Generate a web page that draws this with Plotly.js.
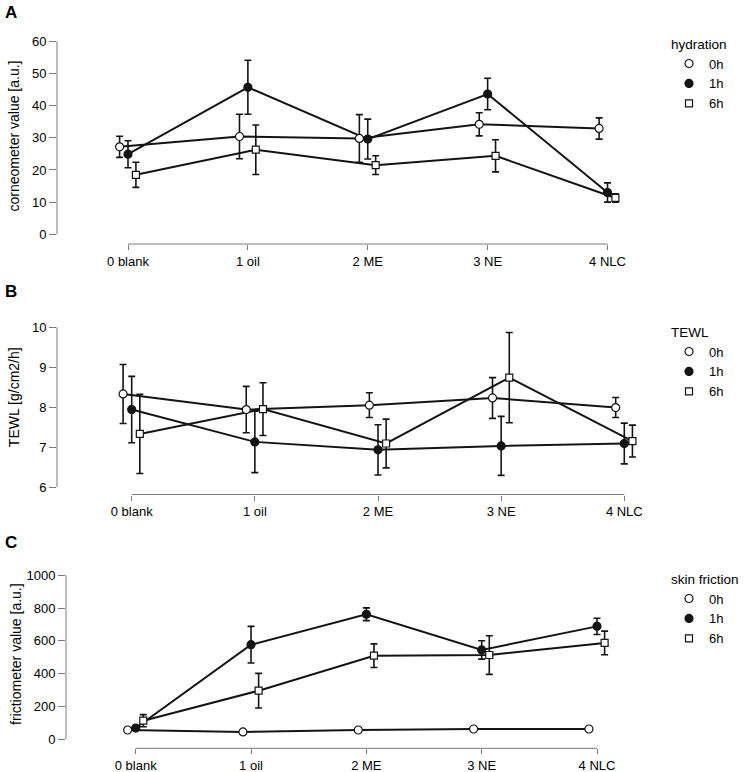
<!DOCTYPE html>
<html><head><meta charset="utf-8">
<script src="https://cdn.plot.ly/plotly-3.0.1.min.js"></script>
<style>html,body{margin:0;padding:0;background:#fff}#chart{width:749px;height:772px}</style>
</head><body><div id="chart"></div>
<script>
// ---------- data ----------
const categories = ['0 blank', '1 oil', '2 ME', '3 NE', '4 NLC'];
const timepoints = ['0h', '1h', '6h'];

// A: hydration (corneometer value, a.u.)
const hydration0h    = [27.2, 30.4, 29.8, 34.2, 32.9];
const hydration0hErr = [3.3, 6.9, 7.4, 3.6, 3.3];
const hydration1h    = [24.9, 45.7, 29.6, 43.6, 13.0];
const hydration1hErr = [4.2, 8.4, 6.2, 4.9, 3.0];
const hydration6h    = [18.5, 26.3, 21.5, 24.4, 11.3];
const hydration6hErr = [3.9, 7.7, 2.9, 5.0, 1.3];

// B: TEWL (g/cm2/h)
const tewl0h    = [8.33, 7.94, 8.05, 8.23, 7.99];
const tewl0hErr = [0.74, 0.58, 0.31, 0.51, 0.25];
const tewl1h    = [7.94, 7.13, 6.93, 7.03, 7.09];
const tewl1hErr = [0.83, 0.77, 0.63, 0.74, 0.51];
const tewl6h    = [7.33, 7.95, 7.09, 8.74, 7.15];
const tewl6hErr = [0.99, 0.66, 0.61, 1.13, 0.40];

// C: skin friction (frictiometer value, a.u.)
const friction0h    = [55, 43, 55, 61, 61];
const friction0hErr = [8, 6, 8, 8, 8];
const friction1h    = [67, 576, 762, 544, 688];
const friction1hErr = [10, 112, 39, 56, 50];
const friction6h    = [112, 295, 509, 513, 587];
const friction6hErr = [37, 106, 72, 118, 72];

// ---------- styling / geometry ----------
const W = 749, H = 772;
const FONT = 'Liberation Sans, Arial, Helvetica, sans-serif';
const AXIS_GREY = '#7a7a7a';
const INK = '#141414';
const xOffsets = [-0.07, 0, 0.066];   // dodge of the three time points
const markerStyles = [
  {symbol: 'circle', color: '#ffffff', size: 8, line: {color: INK, width: 1.2}},
  {symbol: 'circle', color: INK,       size: 8, line: {color: INK, width: 1.2}},
  {symbol: 'square', color: '#ffffff', size: 7, line: {color: INK, width: 1.2}}
];

function lin(p1, v1, p2, v2) { const k = (v2 - v1) / (p2 - p1); return p => v1 + (p - p1) * k; }

const panels = [
  {letter: 'A', legendTitle: 'hydration', yTitle: 'corneometer value [a.u.]',
   series: [[hydration0h, hydration0hErr], [hydration1h, hydration1hErr], [hydration6h, hydration6hErr]],
   yMin: 0, yMax: 60, dtick: 10,
   px: {x0: 128, x4: 607.5, yLo: 234.3, yHi: 41.3, l: 57, r: 650, t: 28, b: 244},
   letterY: 12, legendTop: 31},
  {letter: 'B', legendTitle: 'TEWL', yTitle: 'TEWL [g/cm2/h]',
   series: [[tewl0h, tewl0hErr], [tewl1h, tewl1hErr], [tewl6h, tewl6hErr]],
   yMin: 6, yMax: 10, dtick: 1,
   px: {x0: 131.7, x4: 624.3, yLo: 487, yHi: 327.3, l: 57, r: 660, t: 300, b: 494.5},
   letterY: 291, legendTop: 319},
  {letter: 'C', legendTitle: 'skin friction', yTitle: 'frictiometer value [a.u.]',
   series: [[friction0h, friction0hErr], [friction1h, friction1hErr], [friction6h, friction6hErr]],
   yMin: 0, yMax: 1000, dtick: 200,
   px: {x0: 135.7, x4: 597, yLo: 739, yHi: 575.3, l: 66, r: 650, t: 560, b: 748.3},
   letterY: 542.5, legendTop: 566}
];

const traces = [];
const layout = {
  width: W, height: H,
  margin: {l: 0, r: 0, t: 0, b: 0},
  paper_bgcolor: '#ffffff', plot_bgcolor: 'rgba(0,0,0,0)',
  font: {family: FONT, color: '#000', size: 13},
  showlegend: true,
  shapes: [], annotations: []
};

panels.forEach((p, i) => {
  const n = i === 0 ? '' : String(i + 1);
  const xa = 'x' + n, ya = 'y' + n;
  const legendId = 'legend' + n;
  const g = p.px;
  const fx = lin(g.x0, 0, g.x4, 4);
  const fy = lin(g.yLo, p.yMin, g.yHi, p.yMax);

  // connecting lines
  p.series.forEach((s, k) => {
    traces.push({
      type: 'scatter', mode: 'lines', xaxis: xa, yaxis: ya,
      x: categories.map((c, j) => j + xOffsets[k]), y: s[0],
      line: {color: INK, width: 2}, showlegend: false, hoverinfo: 'skip'
    });
  });
  // markers with error bars
  p.series.forEach((s, k) => {
    traces.push({
      type: 'scatter', mode: 'markers', xaxis: xa, yaxis: ya,
      name: timepoints[k], legend: legendId,
      x: categories.map((c, j) => j + xOffsets[k]), y: s[0],
      text: categories,
      error_y: {type: 'data', array: s[1], visible: true, color: INK, thickness: 1.6, width: 3.5},
      marker: markerStyles[k], cliponaxis: false
    });
  });

  layout['xaxis' + n] = {
    domain: [g.l / W, g.r / W], range: [fx(g.l), fx(g.r)], anchor: ya,
    tickmode: 'array', tickvals: categories.map((c, j) => j), ticktext: categories,
    ticks: 'outside', ticklen: 5, tickwidth: 1, tickcolor: AXIS_GREY,
    showline: false, showgrid: false, zeroline: false, fixedrange: true,
    tickfont: {family: FONT, size: 13, color: '#000'}, ticklabelstandoff: 0
  };
  layout['yaxis' + n] = {
    domain: [1 - g.b / H, 1 - g.t / H], range: [fy(g.b), fy(g.t)], anchor: xa,
    tick0: p.yMin, dtick: p.dtick,
    ticks: 'outside', ticklen: 7, tickwidth: 1, tickcolor: AXIS_GREY,
    showline: false, showgrid: false, zeroline: false, fixedrange: true,
    tickfont: {family: FONT, size: 13, color: '#000'},
    title: {text: p.yTitle, font: {family: FONT, size: 14, color: '#000'}}
  };
  // R-style detached axis lines (span from first to last tick)
  layout.shapes.push({type: 'line', xref: xa, yref: ya + ' domain', x0: 0, x1: 4, y0: 0, y1: 0,
    line: {color: AXIS_GREY, width: 1}});
  layout.shapes.push({type: 'line', xref: xa + ' domain', yref: ya, x0: 0, x1: 0, y0: p.yMin, y1: p.yMax,
    line: {color: AXIS_GREY, width: 1}});

  layout[legendId] = {
    x: 669 / W, y: 1 - p.legendTop / H, xanchor: 'left', yanchor: 'top',
    bgcolor: 'rgba(0,0,0,0)', borderwidth: 0, tracegroupgap: 0,
    font: {family: FONT, size: 13, color: '#000'},
    title: {text: p.legendTitle, font: {family: FONT, size: 13.5, color: '#000'}}
  };

  layout.annotations.push({
    text: '<b>' + p.letter + '</b>', xref: 'paper', yref: 'paper',
    x: 3 / W, y: 1 - p.letterY / H, xanchor: 'left', yanchor: 'middle',
    showarrow: false, font: {family: FONT, size: 17, color: '#000'}
  });
});

Plotly.newPlot('chart', traces, layout, {displayModeBar: false, staticPlot: true});
</script>
</body></html>
